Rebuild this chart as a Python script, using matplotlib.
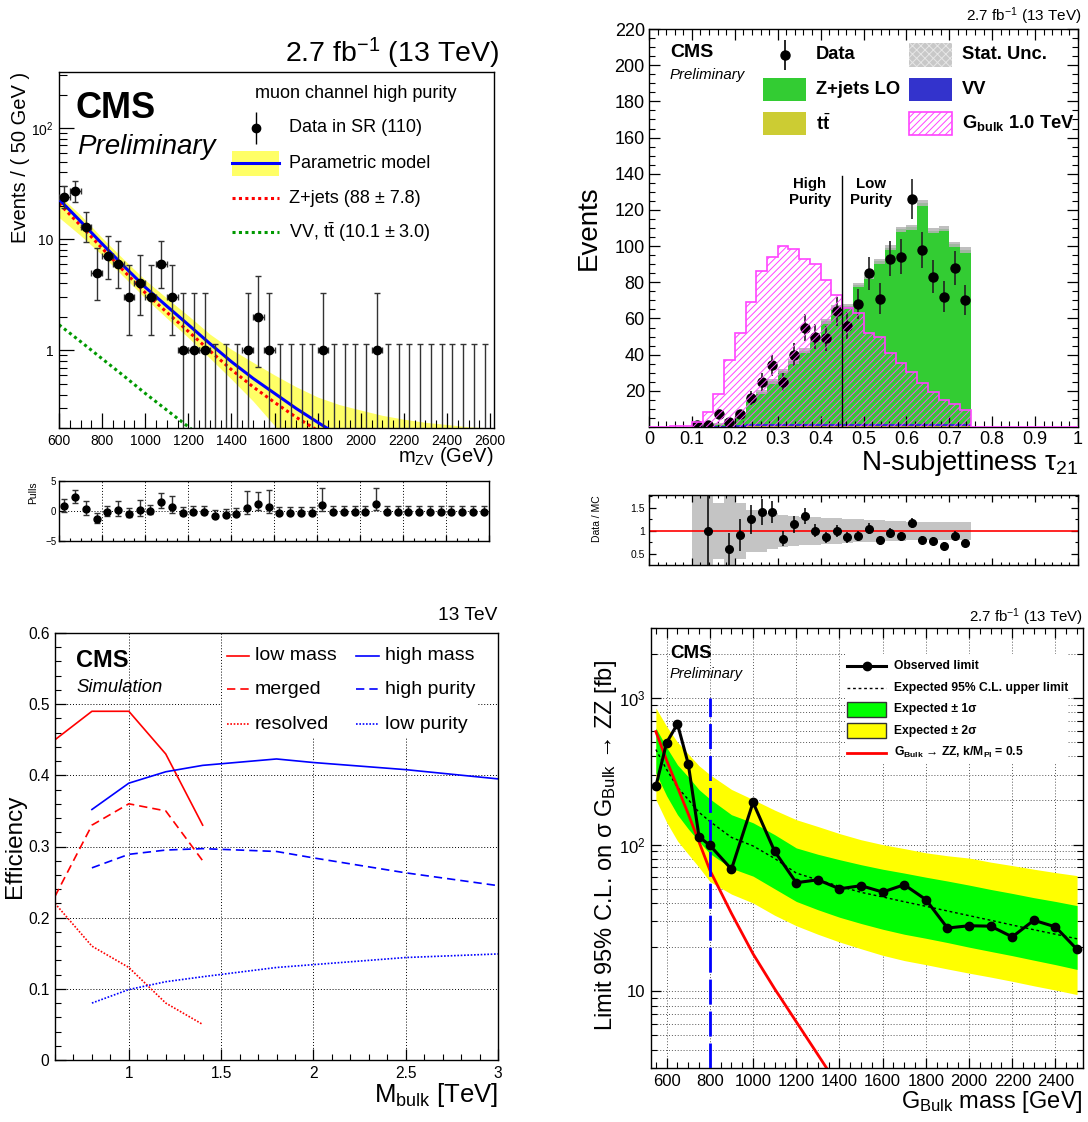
import math

import matplotlib
import matplotlib.pyplot as plt
import numpy as np
from matplotlib.patches import Rectangle
from matplotlib.ticker import (FixedFormatter, FixedLocator, LogLocator,
                               MultipleLocator, NullFormatter)

matplotlib.use("agg")

plt.rcParams["font.family"] = ["Liberation Sans", "DejaVu Sans"]
plt.rcParams["mathtext.fontset"] = "custom"
plt.rcParams["mathtext.rm"] = "Liberation Sans"
plt.rcParams["mathtext.it"] = "Liberation Sans:italic"
plt.rcParams["mathtext.bf"] = "Liberation Sans:bold"
plt.rcParams["hatch.linewidth"] = 0.7
plt.rcParams["axes.linewidth"] = 1.0

W, H = 1088, 1122

# ---------------- top left: m_ZV fit, muon channel high purity ----------------
mzv_bin_lo = 600
mzv_bin_width = 50
mzv_counts = [24, 27, 13, 5, 7, 6, 3, 4, 3, 6, 3, 1, 1, 1, 0, 0, 0, 1, 2, 1,
              0, 0, 0, 0, 1, 0, 0, 0, 0, 1, 0, 0, 0, 0, 0, 0, 0, 0, 0, 0]
mzv_pulls = [0.85, 2.35, 0.35, -1.3, -0.2, 0.1, -0.45, 0.15, 0.0, 1.45,
             0.75, -0.3, -0.2, -0.1, -0.75, -0.65, -0.55, 0.5, 1.1, 0.7,
             -0.3, -0.25, -0.25, -0.25, 1.0, -0.2, -0.2, -0.2, -0.2, 1.1,
             -0.1, -0.1, -0.1, -0.1, -0.1, -0.1, -0.1, -0.1, -0.1, -0.1]
model_mass = [600, 700, 800, 900, 1000, 1100, 1200, 1300, 1400, 1500, 1600, 1700, 1800, 1900]
model_total = [22.9, 14.5, 9.1, 5.75, 3.7, 2.5, 1.7, 1.15, 0.79, 0.56, 0.41, 0.3, 0.225, 0.17]
model_zjets = [21.0, 13.3, 8.3, 5.2, 3.3, 2.2, 1.48, 0.99, 0.67, 0.47, 0.34, 0.25, 0.19, 0.15]
model_vv_mass = [600, 700, 800, 900, 1000, 1100, 1200, 1300]
model_vv = [1.7, 1.2, 0.84, 0.59, 0.41, 0.29, 0.205, 0.145]
band_mass = [600, 700, 800, 900, 1000, 1100, 1200, 1300, 1400, 1500, 1600, 1700,
             1800, 1900, 2000, 2100, 2200, 2300, 2400, 2500, 2620]
band_hi = [25.0, 16.5, 10.3, 6.6, 4.3, 2.95, 2.05, 1.4, 1.02, 0.78, 0.6, 0.47,
           0.38, 0.325, 0.29, 0.26, 0.24, 0.225, 0.215, 0.205, 0.2]
band_lo = [15.7, 10.8, 7.2, 4.6, 2.95, 1.95, 1.3, 0.85, 0.55, 0.35, 0.21, 0.13,
           0.1, 0.1, 0.1, 0.1, 0.1, 0.1, 0.1, 0.1, 0.1]

# ---------------- top right: N-subjettiness ----------------
tau_bin_width = 0.025
tau_tick_labels = ["0", "0.1", "0.2", "0.3", "0.4", "0.5", "0.6", "0.7", "0.8", "0.9", "1"]
tau_mc_total = [0, 0, 0, 0, 0.3, 0.8, 1.6, 3.5, 7.1, 14.9, 19.5, 25.2, 30.8, 36.3, 42.1,
                48.5, 58.5, 65.9, 66.8, 78.3, 82.9, 91.5, 99.2, 109.3, 110.3, 123.7,
                108.4, 109.7, 101.1, 97.8]
tau_vv = [0, 0, 0, 0, 0.1, 0.2, 0.4, 0.6, 0.9, 1.1, 1.2, 1.3, 1.3, 1.4, 1.4,
          1.4, 1.4, 1.4, 1.3, 1.3, 1.3, 1.3, 1.3, 1.3, 1.3, 1.3, 1.2, 1.2, 1.1, 1.1]
tau_tt = [0, 0, 0, 0, 0.0, 0.1, 0.1, 0.2, 0.2, 0.3, 0.3, 0.3, 0.3, 0.3, 0.3,
          0.3, 0.3, 0.3, 0.3, 0.3, 0.3, 0.3, 0.3, 0.3, 0.3, 0.3, 0.3, 0.3, 0.3, 0.3]
tau_stat = [0, 0, 0, 0, 0.3, 0.5, 0.7, 0.8, 1.2, 1.0, 1.0, 1.2, 1.2, 1.2, 1.3,
            1.4, 1.4, 1.4, 1.2, 1.1, 1.1, 1.4, 1.4, 1.4, 1.4, 1.8, 1.4, 1.3, 1.4, 1.5]
tau_data = [0, 0, 0, 0, 1, 1, 7, 3, 7, 16, 25, 34, 25, 40, 55, 50, 49, 64, 56, 68,
            85, 71, 93, 94, 126, 98, 83, 72, 88, 70]
tau_signal = [0, 0, 0.4, 0.6, 2.5, 8.5, 18, 37, 52, 69, 86, 94, 100, 98.5, 93, 90,
              81, 73, 65.6, 62.8, 51.8, 50, 40.7, 35.2, 30.6, 24.5, 19.5, 14.9, 12.7, 9.4,
              0, 0, 0, 0, 0, 0, 0, 0, 0, 0]
tau_ratio = [np.nan, np.nan, np.nan, np.nan, np.nan, 1.0, np.nan, 0.6, 0.92, 1.25,
             1.41, 1.41, 0.83, 1.14, 1.32, 1.0, 0.86, 1.0, 0.86, 0.89, 1.05, 0.8,
             0.96, 0.88, 1.17, 0.81, 0.78, 0.68, 0.9, 0.73]
tau_ratio_unc = [0, 0, 0, 0, 1.0, 1.0, 0.6, 1.0, 0.6, 0.45, 0.45, 0.4, 0.35, 0.32, 0.3,
                 0.3, 0.28, 0.28, 0.26, 0.25, 0.24, 0.23, 0.22, 0.21, 0.2, 0.2, 0.2,
                 0.2, 0.2, 0.2]

# ---------------- bottom left: efficiencies ----------------
mbulk_low = [0.6, 0.8, 1.0, 1.2, 1.4]
eff_low_mass = [0.45, 0.49, 0.49, 0.43, 0.33]
eff_merged = [0.23, 0.33, 0.36, 0.35, 0.28]
eff_resolved = [0.22, 0.16, 0.13, 0.08, 0.05]
mbulk_high = [0.8, 1.0, 1.2, 1.4, 1.8, 2.0, 2.5, 3.0]
eff_high_mass = [0.352, 0.389, 0.405, 0.414, 0.423, 0.418, 0.408, 0.395]
eff_high_purity = [0.27, 0.289, 0.295, 0.297, 0.293, 0.284, 0.263, 0.245]
eff_low_purity = [0.08, 0.099, 0.11, 0.117, 0.13, 0.134, 0.144, 0.149]

# ---------------- bottom right: limits ----------------
limit_mass = [550, 600, 650, 700, 750, 800, 900, 1000, 1100, 1200, 1300, 1400, 1500,
              1600, 1700, 1800, 1900, 2000, 2100, 2200, 2300, 2400, 2500]
limit_obs = [250, 497, 665, 355, 113, 99, 68, 194, 90, 55, 57.6, 50, 52.5, 47.5, 53.3,
             42.2, 27, 28, 27.8, 23.5, 30.5, 27.5, 19.3]
limit_exp = [445, 325, 246, 203, 166, 144, 112, 98, 80.5, 64, 57.5, 52, 47.3, 44, 40.8,
             38, 35.3, 32.8, 30.5, 28.3, 26.3, 24.5, 22.8]
limit_hi1 = [624, 460, 350, 290, 237, 205, 160, 141, 117, 95, 86, 79, 73, 68, 64, 60,
             56.5, 53, 49.5, 46.5, 43.5, 41, 38.4]
limit_hi2 = [855, 640, 500, 415, 345, 300, 238, 203, 172, 148, 133, 119, 108, 100, 94,
             88, 84, 81, 76, 72, 68, 64.5, 61.5]
limit_lo1 = [308, 215, 160, 128, 105, 87, 69, 61, 50, 41, 36, 32, 29, 26.5, 24.5, 23,
             21.5, 20, 18.7, 17.5, 16.3, 15.2, 14.1]
limit_lo2 = [203, 142, 106, 86, 70, 56, 46, 40, 33, 28, 24.5, 21.7, 19.5, 17.6, 16.2,
             15.2, 14.2, 13.3, 12.5, 11.7, 10.9, 10.2, 9.5]
theory_mass = [550, 600, 700, 800, 900, 1000, 1100, 1200, 1300, 1400]
theory_xsec = [590, 375, 162, 67, 34, 18, 10.4, 6.2, 3.7, 2.2]


def box(left, top, right, bottom):
    """Axes rectangle from pixel edges of the 1088x1122 canvas."""
    return [left / W, 1 - bottom / H, (right - left) / W, (bottom - top) / H]


def poisson_interval(n):
    """68% central Poisson interval (RooFit convention for n = 0)."""
    if n == 0:
        return 0.0, 1.148
    alpha = 0.1587

    def cdf(k, mu):
        return sum(math.exp(-mu) * mu ** i / math.factorial(i) for i in range(k + 1))

    a, b = 0.0, float(n)
    for _ in range(60):
        mid = 0.5 * (a + b)
        if 1 - cdf(n - 1, mid) < alpha:
            a = mid
        else:
            b = mid
    lo = a
    a, b = float(n), n + 10 * math.sqrt(n) + 10
    for _ in range(60):
        mid = 0.5 * (a + b)
        if cdf(n, mid) > alpha:
            a = mid
        else:
            b = mid
    return lo, a


def root_ticks(ax, mirror=False, major=6, minor=3, size=10, pad=3):
    ax.tick_params(which="both", direction="in", top=mirror, right=mirror,
                   labelsize=size, pad=pad)
    ax.tick_params(which="major", length=major, width=0.9)
    ax.tick_params(which="minor", length=minor, width=0.8)


def draw_mzv_fit(fig):
    ax = fig.add_axes(box(59, 72, 494, 428))
    ax.set_yscale("log")
    ax.set_xlim(600, 2618)
    ax.set_ylim(0.2, 320)

    ax.fill_between(band_mass, band_lo, band_hi, color="#ffff66", lw=0, zorder=1)
    ax.plot(model_mass, model_zjets, color="red", lw=2.2, ls=(0, (1, 1.1)), zorder=2)
    ax.plot(model_vv_mass, model_vv, color="#009900", lw=2.2, ls=(0, (1, 1.1)), zorder=2)
    ax.plot(model_mass, model_total, color="#0000ff", lw=2.2, zorder=3)

    counts = np.array(mzv_counts, dtype=float)
    centers = mzv_bin_lo + mzv_bin_width * (np.arange(len(counts)) + 0.5)
    intervals = np.array([poisson_interval(int(n)) for n in mzv_counts])
    filled = counts > 0
    ax.errorbar(centers[filled], counts[filled], xerr=mzv_bin_width / 2,
                yerr=[counts[filled] - intervals[filled, 0], intervals[filled, 1] - counts[filled]],
                fmt="o", color="black", ecolor="#333333", ms=6, lw=1, capsize=2, zorder=4)
    empty = ~filled
    ax.errorbar(centers[empty], np.full(empty.sum(), 0.01),
                yerr=[np.zeros(empty.sum()), intervals[empty, 1] - 0.01],
                fmt="none", ecolor="#333333", lw=1, capsize=2, zorder=4)

    ax.xaxis.set_major_locator(MultipleLocator(200))
    ax.xaxis.set_minor_locator(MultipleLocator(50))
    ax.yaxis.set_major_locator(FixedLocator([1, 10, 100]))
    ax.yaxis.set_major_formatter(FixedFormatter(["1", "10", "$10^{2}$"]))
    ax.yaxis.set_minor_locator(LogLocator(base=10, subs=np.arange(2, 10)))
    ax.yaxis.set_minor_formatter(NullFormatter())
    root_ticks(ax, major=11, minor=6, size=10, pad=4)

    fig.text(499 / W, 1 - 53 / H, "2.7 fb$^{-1}$ (13 TeV)", fontsize=20.5,
             ha="right", va="center")
    fig.text(493 / W, 1 - 457 / H, "m$_{\\mathrm{ZV}}$ (GeV)", fontsize=14.5,
             ha="right", va="center")
    fig.text(21 / W, 1 - 72 / H, "Events / ( 50 GeV )", fontsize=14.5,
             rotation=90, ha="center", va="top")

    ax.text(0.039, 0.897, "CMS", transform=ax.transAxes, fontsize=26,
            fontweight="bold", va="center")
    ax.text(0.041, 0.789, "Preliminary", transform=ax.transAxes, fontsize=20,
            style="italic", va="center")

    # legend
    ax.text(0.451, 0.941, "muon channel high purity", transform=ax.transAxes,
            fontsize=13, va="center")
    ax.errorbar([0.453], [0.843], yerr=[0.045], transform=ax.transAxes, fmt="o",
                color="black", ms=6, lw=1, clip_on=False)
    ax.add_patch(Rectangle((0.398, 0.709), 0.108, 0.07, transform=ax.transAxes,
                           facecolor="#ffff66", lw=0))
    ax.plot([0.398, 0.506], [0.744, 0.744], transform=ax.transAxes, color="#0000ff", lw=2.2)
    ax.plot([0.398, 0.506], [0.646, 0.646], transform=ax.transAxes, color="red",
            lw=2.2, ls=(0, (1, 1.1)))
    ax.plot([0.398, 0.506], [0.551, 0.551], transform=ax.transAxes, color="#009900",
            lw=2.2, ls=(0, (1, 1.1)))
    labels = ["Data in SR (110)", "Parametric model", "Z+jets (88 ± 7.8)",
              "VV, t$\\bar{\\mathrm{t}}$ (10.1 ± 3.0)"]
    for label, y in zip(labels, [0.843, 0.744, 0.646, 0.551]):
        ax.text(0.529, y, label, transform=ax.transAxes, fontsize=13, va="center")

    # pulls
    pax = fig.add_axes(box(59, 481, 489, 541))
    pax.set_xlim(600, 2600)
    pax.set_ylim(-5, 5)
    pulls = np.array(mzv_pulls)
    down, up = [], []
    for n, pull, (lo, hi) in zip(mzv_counts, mzv_pulls, intervals):
        if n == 0:
            down.append(0.0)
            up.append(1.0)
        elif pull > 0:
            down.append(1.0)
            up.append((hi - n) / (n - lo))
        else:
            down.append((n - lo) / (hi - n))
            up.append(1.0)
    pax.errorbar(centers, pulls, yerr=[down, up], fmt="o", color="black",
                 ecolor="#333333", ms=5, lw=1, capsize=2, zorder=3)
    for x in range(800, 2600, 200):
        pax.axvline(x, color="black", lw=0.7, ls=(0, (1, 2)), zorder=1)
    pax.axhline(0, color="black", lw=0.7, ls=(0, (1, 2)), zorder=1)
    pax.xaxis.set_major_locator(MultipleLocator(200))
    pax.xaxis.set_minor_locator(MultipleLocator(50))
    pax.yaxis.set_major_locator(FixedLocator([-5, 0, 5]))
    root_ticks(pax, major=4, minor=2, size=7, pad=2)
    pax.set_xticklabels([])
    fig.text(33 / W, 1 - 481 / H, "Pulls", fontsize=7.5, rotation=90,
             ha="center", va="top")


def draw_tau21(fig):
    ax = fig.add_axes(box(649, 29, 1078, 427))
    ax.set_xlim(0, 1)
    ax.set_ylim(0, 220)
    n = len(tau_mc_total)
    edges = tau_bin_width * np.arange(n + 1)
    sig_edges = tau_bin_width * np.arange(len(tau_signal) + 1)
    mc = np.array(tau_mc_total)
    vv = np.array(tau_vv)
    tt = np.array(tau_tt)
    stat = np.array(tau_stat)

    ax.stairs(tt, edges, baseline=0, fill=True, color="#cccc33", zorder=1)
    ax.stairs(tt + vv, edges, baseline=tt, fill=True, color="#3333cc", zorder=1)
    ax.stairs(mc, edges, baseline=tt + vv, fill=True, color="#33cc33", zorder=1)
    ax.stairs(mc + stat, edges, baseline=mc - stat, fill=True, color="#b4b4b4",
              alpha=0.85, zorder=2)

    data = np.array(tau_data, dtype=float)
    centers = edges[:-1] + tau_bin_width / 2
    has = data > 0
    ax.errorbar(centers[has], data[has], yerr=np.sqrt(data[has]), fmt="o",
                color="black", ecolor="#222222", ms=6.5, lw=1.2, zorder=3)

    ax.stairs(tau_signal, sig_edges, baseline=0, fill=True, facecolor="none",
              edgecolor="#ff44ff", hatch="/////", lw=1.2, zorder=4)

    ax.plot([0.45, 0.45], [0, 139], color="black", lw=1, zorder=5)
    ax.text(0.375, 138, "High\nPurity", fontsize=10.8, fontweight="bold",
            ha="center", va="top", linespacing=1.15)
    ax.text(0.517, 138, "Low\nPurity", fontsize=10.8, fontweight="bold",
            ha="center", va="top", linespacing=1.15)

    ax.xaxis.set_major_locator(FixedLocator(np.linspace(0, 1, len(tau_tick_labels))))
    ax.xaxis.set_major_formatter(FixedFormatter(tau_tick_labels))
    ax.xaxis.set_minor_locator(MultipleLocator(0.02))
    ax.yaxis.set_major_locator(FixedLocator(np.arange(20, 221, 20)))
    ax.yaxis.set_minor_locator(MultipleLocator(5))
    root_ticks(ax, mirror=True, major=8, minor=4, size=13, pad=3)

    fig.text(1082 / W, 1 - 16 / H, "2.7 fb$^{-1}$ (13 TeV)", fontsize=11,
             ha="right", va="center")
    fig.text(589 / W, 1 - 228 / H, "Events", fontsize=20, rotation=90,
             ha="center", va="center")
    fig.text(1078 / W, 1 - 463 / H, "N-subjettiness τ$_{21}$", fontsize=20,
             ha="right", va="center")

    ax.text(0.049, 0.94, "CMS", transform=ax.transAxes, fontsize=14,
            fontweight="bold", va="center")
    ax.text(0.049, 0.884, "Preliminary", transform=ax.transAxes, fontsize=10.8,
            style="italic", va="center")

    # legend
    rows = [0.935, 0.848, 0.763]
    bh = 0.0586
    ax.errorbar([0.317], [rows[0]], yerr=[0.038], transform=ax.transAxes, fmt="o",
                color="black", ms=6.5, lw=1.2, clip_on=False)
    ax.add_patch(Rectangle((0.266, rows[1] - bh / 2), 0.101, bh, transform=ax.transAxes,
                           facecolor="#33cc33", lw=0))
    ax.add_patch(Rectangle((0.266, rows[2] - bh / 2), 0.101, bh, transform=ax.transAxes,
                           facecolor="#cccc33", lw=0))
    ax.add_patch(Rectangle((0.606, rows[0] - bh / 2), 0.101, bh, transform=ax.transAxes,
                           facecolor="#c8c8c8", edgecolor="#e6e6e6", hatch="xxxx", lw=0))
    ax.add_patch(Rectangle((0.606, rows[1] - bh / 2), 0.101, bh, transform=ax.transAxes,
                           facecolor="#3333cc", lw=0))
    ax.add_patch(Rectangle((0.606, rows[2] - bh / 2), 0.101, bh, transform=ax.transAxes,
                           facecolor="none", edgecolor="#ff44ff", hatch="/////", lw=1.2))
    for label, x, y in [("Data", 0.389, rows[0]), ("Z+jets LO", 0.389, rows[1]),
                        ("t$\\bar{\\mathbf{t}}$", 0.389, rows[2]),
                        ("Stat. Unc.", 0.729, rows[0]), ("VV", 0.729, rows[1]),
                        ("G$_{\\mathbf{bulk}}$ 1.0 TeV", 0.729, rows[2])]:
        ax.text(x, y, label, transform=ax.transAxes, fontsize=13.2,
                fontweight="bold", va="center")

    # ratio panel
    rax = fig.add_axes(box(649, 495, 1078, 565))
    rax.set_xlim(0, 1)
    rax.set_ylim(0.26, 1.78)
    r_unc = np.array(tau_ratio_unc)
    rax.stairs(1 + r_unc, edges, baseline=1 - r_unc, fill=True, color="#c4c4c4", zorder=1)
    rax.axhline(1, color="red", lw=1.2, zorder=2)
    ratio = np.array(tau_ratio)
    ok = ~np.isnan(ratio)
    rax.errorbar(centers[ok], ratio[ok], xerr=tau_bin_width / 4,
                 yerr=ratio[ok] / np.sqrt(data[ok]), fmt="o", color="black",
                 ms=5.5, lw=1.1, zorder=3)
    rax.xaxis.set_major_locator(MultipleLocator(0.1))
    rax.xaxis.set_minor_locator(MultipleLocator(0.02))
    rax.yaxis.set_major_locator(FixedLocator([0.5, 1, 1.5]))
    rax.yaxis.set_major_formatter(FixedFormatter(["0.5", "1", "1.5"]))
    rax.yaxis.set_minor_locator(MultipleLocator(0.25))
    root_ticks(rax, mirror=True, major=5, minor=2.5, size=7.5, pad=3)
    rax.set_xticklabels([])
    fig.text(597 / W, 1 - 495 / H, "Data / MC", fontsize=7.5, rotation=90,
             ha="center", va="top")


def draw_efficiency(fig):
    ax = fig.add_axes(box(55, 633, 498, 1060))
    ax.set_xlim(0.6, 3.0)
    ax.set_ylim(0, 0.6)
    ax.set_axisbelow(True)
    ax.grid(True, which="major", color="black", lw=0.7, ls=(0, (1, 2)))

    red = "#ff0000"
    blue = "#0000ff"
    dashed = (0, (5, 3))
    dotted = (0, (1, 1))
    ax.plot(mbulk_low, eff_low_mass, color=red, lw=1.2)
    ax.plot(mbulk_low, eff_merged, color=red, lw=1.2, ls=dashed)
    ax.plot(mbulk_low, eff_resolved, color=red, lw=1.2, ls=dotted)
    ax.plot(mbulk_high, eff_high_mass, color=blue, lw=1.2)
    ax.plot(mbulk_high, eff_high_purity, color=blue, lw=1.2, ls=dashed)
    ax.plot(mbulk_high, eff_low_purity, color=blue, lw=1.2, ls=dotted)

    ax.add_patch(Rectangle((1.505, 0.452), 1.38, 0.147, facecolor="white", lw=0, zorder=1.5))
    rows = [0.568, 0.521, 0.472]
    for (x0, x1, xt), color, names in [((1.530, 1.653, 1.683), red, ["low mass", "merged", "resolved"]),
                                       ((2.231, 2.357, 2.388), blue, ["high mass", "high purity", "low purity"])]:
        for y, style, name in zip(rows, ["-", dashed, dotted], names):
            ax.plot([x0, x1], [y, y], color=color, lw=1.2, ls=style, zorder=3)
            ax.text(xt, y, name, fontsize=14, va="center", zorder=3)

    ax.text(0.714, 0.562, "CMS", fontsize=17, fontweight="bold", va="center")
    ax.text(0.714, 0.524, "Simulation", fontsize=13.3, style="italic", va="center")

    ax.xaxis.set_major_locator(FixedLocator([1, 1.5, 2, 2.5, 3]))
    ax.xaxis.set_major_formatter(FixedFormatter(["1", "1.5", "2", "2.5", "3"]))
    ax.xaxis.set_minor_locator(MultipleLocator(0.1))
    ax.yaxis.set_major_locator(FixedLocator([0, 0.1, 0.2, 0.3, 0.4, 0.5, 0.6]))
    ax.yaxis.set_major_formatter(FixedFormatter(["0", "0.1", "0.2", "0.3", "0.4", "0.5", "0.6"]))
    ax.yaxis.set_minor_locator(MultipleLocator(0.02))
    root_ticks(ax, major=8, minor=4, size=11.2, pad=4)

    fig.text(497 / W, 1 - 615 / H, "13 TeV", fontsize=13.8, ha="right", va="center")
    fig.text(498 / W, 1 - 1095 / H, "M$_{\\mathrm{bulk}}$ [TeV]", fontsize=18.5,
             ha="right", va="center")
    fig.text(15 / W, 1 - 846 / H, "Efficiency", fontsize=17.5, rotation=90,
             ha="center", va="center")


def draw_limits(fig):
    ax = fig.add_axes(box(651, 628, 1083, 1068))
    ax.set_yscale("log")
    ax.set_xlim(527.5, 2527.5)
    ax.set_ylim(3, 3000)
    ax.set_axisbelow(True)
    ax.xaxis.set_major_locator(MultipleLocator(200))
    ax.xaxis.set_minor_locator(MultipleLocator(50))
    ax.yaxis.set_major_locator(FixedLocator([10, 100, 1000]))
    ax.yaxis.set_major_formatter(FixedFormatter(["10", "$10^{2}$", "$10^{3}$"]))
    ax.yaxis.set_minor_locator(LogLocator(base=10, subs=np.arange(2, 10)))
    ax.yaxis.set_minor_formatter(NullFormatter())
    ax.grid(True, which="major", axis="x", color="#555555", lw=0.7, ls=(0, (1, 2)))
    ax.grid(True, which="both", axis="y", color="#555555", lw=0.7, ls=(0, (1, 2)))

    ax.fill_between(limit_mass, limit_lo2, limit_hi2, color="#ffff00", lw=0, zorder=1)
    ax.fill_between(limit_mass, limit_lo1, limit_hi1, color="#00ff00", lw=0, zorder=1.1)
    ax.plot(limit_mass, limit_exp, color="black", lw=1, ls=(0, (2, 2)), zorder=2)
    ax.plot(theory_mass, theory_xsec, color="#ff0000", lw=2, zorder=2.5)
    ax.plot([800, 800], [3, 1000], color="#0000ff", lw=2, ls=(0, (9, 2.5)), zorder=2.6)
    ax.plot(limit_mass, limit_obs, color="black", lw=2.2, marker="o", ms=6, zorder=3)

    ax.add_patch(Rectangle((0.45, 0.69), 0.515, 0.25, transform=ax.transAxes,
                           facecolor="white", lw=0, zorder=1.5))
    rows = [0.914, 0.864, 0.815, 0.767, 0.717]
    x0, x1, xt = 0.454, 0.544, 0.563
    ax.plot([x0, x1], [rows[0]] * 2, transform=ax.transAxes, color="black", lw=2.2, zorder=4)
    ax.plot([(x0 + x1) / 2], [rows[0]], transform=ax.transAxes, color="black",
            marker="o", ms=6, zorder=4)
    ax.plot([x0, x1], [rows[1]] * 2, transform=ax.transAxes, color="black", lw=1,
            ls=(0, (2, 2)), zorder=4)
    ax.add_patch(Rectangle((x0, rows[2] - 0.017), x1 - x0, 0.034, transform=ax.transAxes,
                           facecolor="#00ff00", edgecolor="#333333", lw=1, zorder=4))
    ax.add_patch(Rectangle((x0, rows[3] - 0.017), x1 - x0, 0.034, transform=ax.transAxes,
                           facecolor="#ffff00", edgecolor="#333333", lw=1, zorder=4))
    ax.plot([x0, x1], [rows[4]] * 2, transform=ax.transAxes, color="#ff0000", lw=2, zorder=4)
    labels = ["Observed limit", "Expected 95% C.L. upper limit", "Expected ± 1σ",
              "Expected ± 2σ",
              "G$_{\\mathbf{Bulk}}$ → ZZ, k/M$_{\\mathbf{Pl}}$ = 0.5"]
    for label, y in zip(labels, rows):
        ax.text(xt, y, label, transform=ax.transAxes, fontsize=8.7,
                fontweight="bold", va="center", zorder=4)

    ax.text(0.044, 0.9425, "CMS", transform=ax.transAxes, fontsize=13.5,
            fontweight="bold", va="center", zorder=4)
    ax.text(0.044, 0.895, "Preliminary", transform=ax.transAxes, fontsize=10.5,
            style="italic", va="center", zorder=4)

    root_ticks(ax, mirror=True, major=7, minor=4, size=12, pad=4)

    fig.text(1083 / W, 1 - 617 / H, "2.7 fb$^{-1}$ (13 TeV)", fontsize=10.8,
             ha="right", va="center")
    fig.text(1083 / W, 1 - 1102 / H, "G$_{\\mathrm{Bulk}}$ mass [GeV]", fontsize=17,
             ha="right", va="center")
    fig.text(606 / W, 1 - 846 / H,
             "Limit 95% C.L. on σ G$_{\\mathrm{Bulk}}$ → ZZ [fb]", fontsize=17,
             rotation=90, ha="center", va="center")


fig = plt.figure(figsize=(W / 100, H / 100), dpi=100)
draw_mzv_fit(fig)
draw_tau21(fig)
draw_efficiency(fig)
draw_limits(fig)
fig.savefig("out.png", dpi=100)
plt.close(fig)
